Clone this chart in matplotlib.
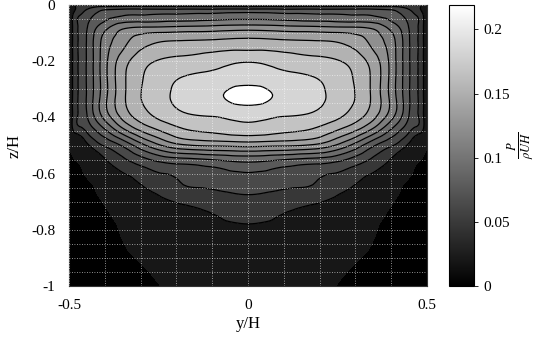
import numpy as np
import matplotlib
matplotlib.use("Agg")
import matplotlib.pyplot as plt
import matplotlib.tri as mtri
from matplotlib.colors import Normalize
from matplotlib.cm import ScalarMappable

plt.rcParams["font.family"] = ["Liberation Serif", "DejaVu Serif"]
plt.rcParams["mathtext.fontset"] = "stix"
plt.rcParams["axes.unicode_minus"] = False

# sample positions of the production field
y_pos = [-0.5, -0.49, -0.47, -0.44, -0.4, -0.35, -0.28, -0.18, -0.09, 0.0,
         0.09, 0.18, 0.28, 0.35, 0.4, 0.44, 0.47, 0.49, 0.5]
z_pos = [0.0, -0.015, -0.04, -0.08, -0.13, -0.2, -0.26, -0.32, -0.38, -0.44,
         -0.5, -0.56, -0.63, -0.7, -0.8, -0.9, -1.0]

# P / (rho U H), one row per z_pos, one column per y_pos
P = [
    [0.012, 0.034, 0.043, 0.045, 0.045, 0.045, 0.045, 0.045, 0.045, 0.045, 0.045, 0.045, 0.045, 0.045, 0.045, 0.045, 0.043, 0.034, 0.012],
    [0.020, 0.033, 0.047, 0.058, 0.068, 0.0702, 0.0704, 0.0705, 0.0705, 0.071, 0.0705, 0.0705, 0.0704, 0.0702, 0.068, 0.058, 0.047, 0.033, 0.020],
    [0.020, 0.040, 0.0559, 0.0678, 0.0795, 0.0857, 0.0873, 0.0895, 0.0916, 0.0936, 0.0916, 0.0895, 0.0873, 0.0857, 0.0795, 0.0678, 0.0559, 0.040, 0.020],
    [0.022, 0.040, 0.058, 0.0755, 0.0948, 0.1119, 0.1163, 0.1185, 0.1205, 0.1225, 0.1205, 0.1185, 0.1163, 0.1119, 0.0948, 0.0755, 0.058, 0.040, 0.022],
    [0.024, 0.040, 0.058, 0.0788, 0.1063, 0.1251, 0.141, 0.1462, 0.1476, 0.149, 0.1476, 0.1462, 0.141, 0.1251, 0.1063, 0.0788, 0.058, 0.040, 0.024],
    [0.025, 0.040, 0.058, 0.0788, 0.1098, 0.1378, 0.1576, 0.1647, 0.1693, 0.174, 0.1693, 0.1647, 0.1576, 0.1378, 0.1098, 0.0788, 0.058, 0.040, 0.025],
    [0.025, 0.040, 0.058, 0.0788, 0.1098, 0.1411, 0.1627, 0.1758, 0.1805, 0.185, 0.1805, 0.1758, 0.1627, 0.1411, 0.1098, 0.0788, 0.058, 0.040, 0.025],
    [0.025, 0.040, 0.058, 0.0788, 0.1098, 0.1411, 0.1642, 0.1795, 0.1879, 0.195, 0.1879, 0.1795, 0.1642, 0.1411, 0.1098, 0.0788, 0.058, 0.040, 0.025],
    [0.025, 0.040, 0.058, 0.0788, 0.1098, 0.1384, 0.1598, 0.1753, 0.1796, 0.184, 0.1796, 0.1753, 0.1598, 0.1384, 0.1098, 0.0788, 0.058, 0.040, 0.025],
    [0.020, 0.040, 0.0523, 0.0655, 0.0859, 0.1139, 0.1405, 0.1601, 0.1649, 0.1696, 0.1649, 0.1601, 0.1405, 0.1139, 0.0859, 0.0655, 0.0523, 0.040, 0.020],
    [0.002, 0.0087, 0.0222, 0.0414, 0.0564, 0.0719, 0.1016, 0.1273, 0.1318, 0.134, 0.1318, 0.1273, 0.1016, 0.0719, 0.0564, 0.0414, 0.0222, 0.0087, 0.002],
    [-0.005, -0.003, 0.0015, 0.0161, 0.0356, 0.050, 0.0635, 0.0737, 0.0791, 0.0845, 0.0791, 0.0737, 0.0635, 0.050, 0.0356, 0.0161, 0.0015, -0.003, -0.005],
    [-0.007, -0.006, -0.004, -0.0002, 0.0131, 0.0299, 0.045, 0.0558, 0.0593, 0.0628, 0.0593, 0.0558, 0.045, 0.0299, 0.0131, -0.0002, -0.004, -0.006, -0.007],
    [-0.008, -0.007, -0.006, -0.004, 0.0011, 0.0126, 0.0287, 0.0423, 0.0465, 0.0506, 0.0465, 0.0423, 0.0287, 0.0126, 0.0011, -0.004, -0.006, -0.007, -0.008],
    [-0.008, -0.008, -0.007, -0.006, -0.004, 0.002, 0.019, 0.032, 0.0365, 0.038, 0.0365, 0.032, 0.019, 0.002, -0.004, -0.006, -0.007, -0.008, -0.008],
    [-0.008, -0.008, -0.008, -0.007, -0.006, -0.004, 0.006, 0.021, 0.0265, 0.028, 0.0265, 0.021, 0.006, -0.004, -0.006, -0.007, -0.008, -0.008, -0.008],
    [-0.008, -0.008, -0.008, -0.007, -0.006, -0.005, -0.005, 0.011, 0.018, 0.020, 0.018, 0.011, -0.005, -0.005, -0.006, -0.007, -0.008, -0.008, -0.008],
]

fill_levels = [-0.05, 0.0, 0.04, 0.055, 0.07, 0.085, 0.10, 0.115, 0.13,
               0.145, 0.16, 0.175, 0.19, 0.25]
line_levels = [0.04, 0.055, 0.07, 0.085, 0.10, 0.115, 0.13, 0.145, 0.16,
               0.175, 0.19]
cbar_ticks = [0, 0.05, 0.1, 0.15, 0.2]
cbar_labels = ["0", "0.05", "0.1", "0.15", "0.2"]
x_ticks = [-0.5, 0, 0.5]
x_labels = ["-0.5", "0", "0.5"]
y_ticks = [0, -0.2, -0.4, -0.6, -0.8, -1]
y_labels = ["0", "-0.2", "-0.4", "-0.6", "-0.8", "-1"]

norm = Normalize(vmin=0, vmax=0.219)

fig = plt.figure(figsize=(5.52, 3.42), dpi=100)
ax = fig.add_axes([0.125, 0.1637, 0.6486, 0.8216])
cax = fig.add_axes([0.8134, 0.1637, 0.0453, 0.8216])

# triangles of the sample grid, diagonals mirrored about the core so the
# cubic refinement stays symmetric
ny, nz = len(y_pos), len(z_pos)
tris = []
for i in range(nz - 1):
    for j in range(ny - 1):
        a = i * ny + j
        b, c, d = a + 1, a + ny, a + ny + 1
        left = y_pos[j] + y_pos[j + 1] < 0
        upper = z_pos[i] + z_pos[i + 1] > -0.64
        if left == upper:
            tris += [[a, b, d], [a, d, c]]
        else:
            tris += [[a, b, c], [b, d, c]]

Y, Z = np.meshgrid(y_pos, z_pos)
triang = mtri.Triangulation(Y.ravel(), Z.ravel(), triangles=tris)
refiner = mtri.UniformTriRefiner(triang)
tri_fine, P_fine = refiner.refine_field(np.array(P).ravel(), subdiv=3)

ax.tricontourf(tri_fine, P_fine, levels=fill_levels, cmap="gray", norm=norm)
ax.tricontour(tri_fine, P_fine, levels=line_levels, colors="black",
              linewidths=0.9)

ax.set_xlim(-0.5, 0.5)
ax.set_ylim(-1, 0)
ax.set_xticks(x_ticks)
ax.set_xticklabels(x_labels)
ax.set_yticks(y_ticks)
ax.set_yticklabels(y_labels)
ax.set_xticks(np.arange(-0.4, 0.45, 0.1), minor=True)
ax.set_yticks(np.arange(-0.95, 0, 0.05), minor=True)
ax.tick_params(which="both", direction="in", length=0, labelsize=11)
ax.tick_params(axis="x", pad=9)
ax.tick_params(axis="y", pad=10)
ax.set_axisbelow(False)
ax.grid(which="both", color="white", linestyle=(0, (1, 2)), linewidth=0.6,
        alpha=0.75)
ax.set_xlabel("y/H", fontsize=12, labelpad=3)
ax.set_ylabel("z/H", fontsize=12, labelpad=6)
for s in ax.spines.values():
    s.set_color("#333333")
    s.set_linewidth(0.8)

cb = fig.colorbar(ScalarMappable(norm=norm, cmap="gray"), cax=cax,
                  ticks=cbar_ticks)
cb.ax.set_yticklabels(cbar_labels)
cb.ax.tick_params(labelsize=11, length=3, direction="out", width=0.6)
cb.outline.set_linewidth(0.8)
cb.set_label(r"$\frac{P}{\rho U H}$", rotation=90, fontsize=13, labelpad=-3)

fig.savefig("out.png", dpi=100)
